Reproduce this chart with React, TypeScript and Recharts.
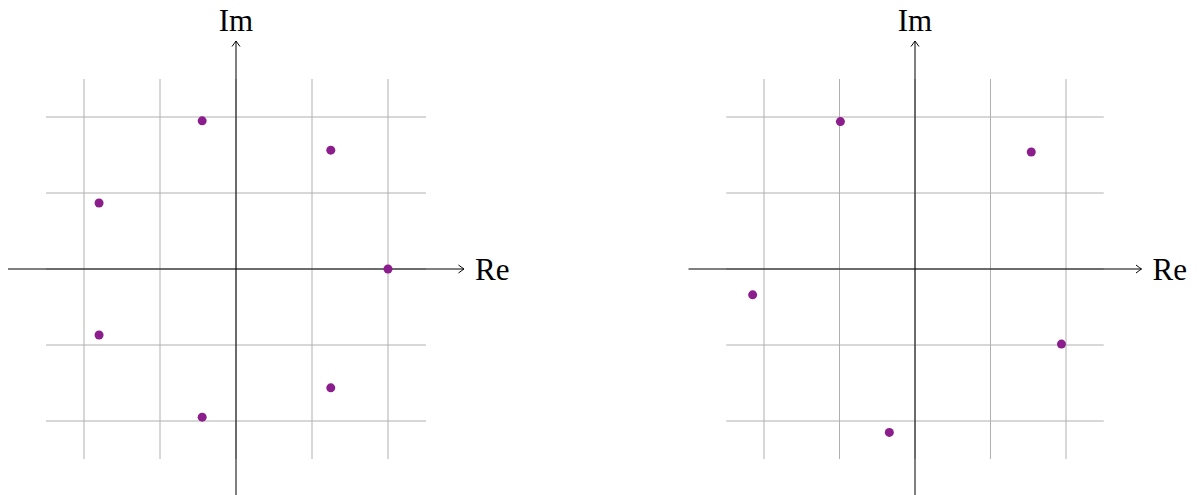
import { ScatterChart, Scatter, XAxis, YAxis, ReferenceLine } from 'recharts';

type Pt = { re: number; im: number };

const gridTicks = [-1, -0.5, 0, 0.5, 1];
const gridExtent = 1.25;
const axisExtent = 1.5;

// seventh roots of unity
const leftPoints: Pt[] = [
  { re: 1, im: 0 },
  { re: 0.6235, im: 0.7818 },
  { re: -0.2225, im: 0.9749 },
  { re: -0.901, im: 0.4339 },
  { re: -0.901, im: -0.4339 },
  { re: -0.2225, im: -0.9749 },
  { re: 0.6235, im: -0.7818 },
];

// five roots on a circle of radius ~1.09
const rightPoints: Pt[] = [
  { re: 0.77, im: 0.77 },
  { re: -0.494, im: 0.97 },
  { re: -1.075, im: -0.17 },
  { re: -0.17, im: -1.075 },
  { re: 0.97, im: -0.494 },
];

const dotColor = '#8c1d8c';
const gridColor = '#b0b0b0';
const labelStyle = { fontFamily: "'Liberation Serif', 'DejaVu Serif', serif", fontSize: 31 };

function AxisArrow(props: any, text: string, vertical: boolean) {
  const { x1, y1, x2, y2 } = props;
  const ang = Math.atan2(y2 - y1, x2 - x1);
  const c = Math.cos(ang);
  const s = Math.sin(ang);
  // point in arrow-local coords (u along axis, v across)
  const p = (u: number, v: number) => `${x2 + u * c - v * s} ${y2 + u * s + v * c}`;
  const head = `M ${p(-5.5, -4)} Q ${p(-1.5, -1)} ${p(0, 0)} Q ${p(-1.5, 1)} ${p(-5.5, 4)}`;
  return (
    <g>
      <line x1={x1} y1={y1} x2={x2} y2={y2} stroke="#000" strokeWidth={1} />
      <path d={head} fill="none" stroke="#000" strokeWidth={1} />
      {vertical ? (
        <text x={x2} y={y2 - 10} textAnchor="middle" style={labelStyle} fill="#000">
          {text}
        </text>
      ) : (
        <text x={x2 + 11} y={y2 + 11} textAnchor="start" style={labelStyle} fill="#000">
          {text}
        </text>
      )}
    </g>
  );
}

function Dot(props: any) {
  const { cx, cy } = props;
  return <circle cx={cx} cy={cy} r={4.5} fill={dotColor} />;
}

function ComplexPlane({ points, left, right }: { points: Pt[]; left: number; right: number }) {
  return (
    <ScatterChart width={600} height={497} margin={{ top: 41, bottom: 0, left, right }}>
      <XAxis type="number" dataKey="re" domain={[-axisExtent, axisExtent]} allowDataOverflow hide />
      <YAxis type="number" dataKey="im" domain={[-axisExtent, axisExtent]} allowDataOverflow hide />
      {gridTicks.map((t) => (
        <ReferenceLine
          key={`v${t}`}
          segment={[{ x: t, y: -gridExtent }, { x: t, y: gridExtent }]}
          stroke={gridColor}
          strokeWidth={1}
          ifOverflow="visible"
        />
      ))}
      {gridTicks.map((t) => (
        <ReferenceLine
          key={`h${t}`}
          segment={[{ x: -gridExtent, y: t }, { x: gridExtent, y: t }]}
          stroke={gridColor}
          strokeWidth={1}
          ifOverflow="visible"
        />
      ))}
      <ReferenceLine
        segment={[{ x: -axisExtent, y: 0 }, { x: axisExtent, y: 0 }]}
        ifOverflow="visible"
        shape={(p: any) => AxisArrow(p, 'Re', false)}
      />
      <ReferenceLine
        segment={[{ x: 0, y: -axisExtent }, { x: 0, y: axisExtent }]}
        ifOverflow="visible"
        shape={(p: any) => AxisArrow(p, 'Im', true)}
      />
      <Scatter data={points} shape={Dot} isAnimationActive={false} />
    </ScatterChart>
  );
}

export default function App() {
  return (
    <div
      style={{
        position: 'absolute',
        left: 0,
        top: 0,
        width: 1200,
        height: 495,
        overflow: 'hidden',
        background: '#fff',
        display: 'flex',
      }}
    >
      <ComplexPlane points={leftPoints} left={8} right={136} />
      <ComplexPlane points={rightPoints} left={88.5} right={58.5} />
    </div>
  );
}
